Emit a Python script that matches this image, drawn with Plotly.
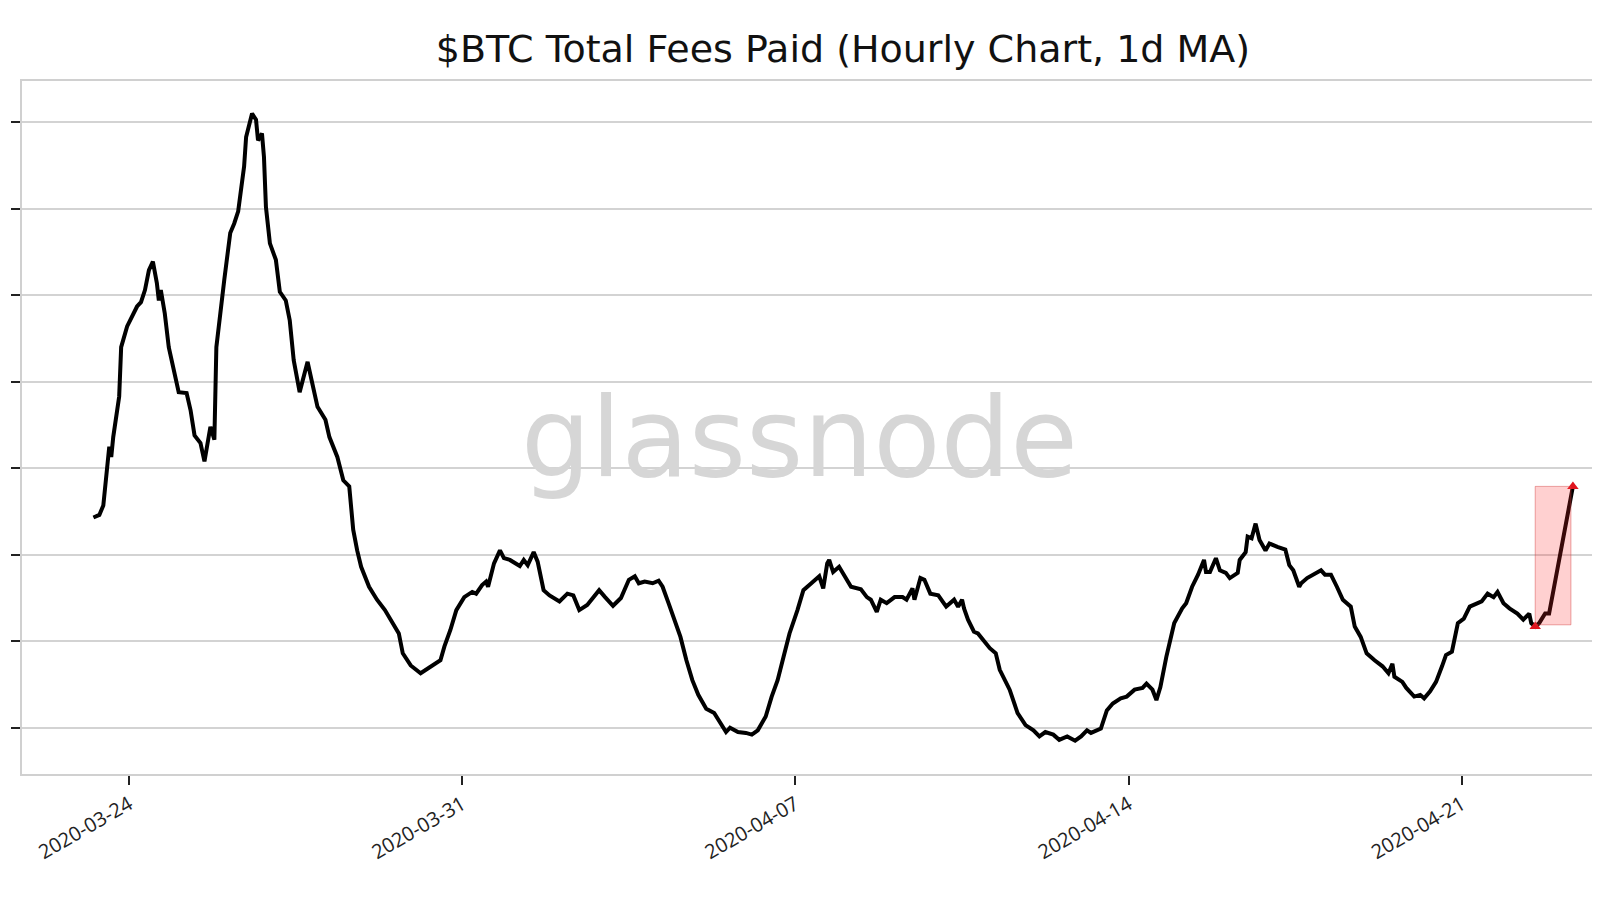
import pandas as pd
import plotly.graph_objects as go

# hours since 2020-03-23 00:00 (hourly series, 1d moving average)
start = "2020-03-23 00:00"
hours = [6, 9, 11, 14, 15, 16, 19, 20, 23, 25, 28, 30, 32, 34, 36, 38, 39, 40, 42, 44,
         46, 49, 53, 55, 57, 60, 62, 65, 67, 68, 72, 75, 77, 79, 82, 83, 86, 88, 89, 91,
         92, 93, 95, 98, 100, 103, 105, 107, 110, 114, 116, 119, 123, 125, 129, 132, 135, 137,
         139, 141, 145, 149, 153, 156, 160, 162, 166, 171, 176, 181, 183, 186, 189, 193, 197, 199,
         202, 204, 205, 208, 211, 213, 216, 219, 221, 223, 225, 228, 230, 233, 236, 241, 245, 248,
         251, 255, 257, 261, 264, 268, 272, 276, 279, 281, 284, 288, 291,
         293, 296, 299, 302, 305, 308, 311, 315, 319, 322, 325, 327, 331, 335, 338, 341, 345, 348,
         351, 354, 357, 361, 364, 368, 372, 374, 376, 377, 379, 382, 385, 388, 393, 396, 398, 401,
         403, 406, 410, 414, 416, 419, 420, 423, 425, 428, 432, 436, 440, 442, 444,
         445, 447, 450, 452, 455, 458, 461, 463, 468, 472, 476, 480, 483, 486, 490, 493, 497, 501,
         504, 507, 509, 514, 517, 520, 524, 527, 531, 535, 537, 540, 542, 544, 547, 551, 555, 557,
         560, 563, 566, 567, 569, 572, 574, 577, 579, 583, 584, 587, 588, 590, 592, 594, 597, 599, 603,
         607, 609, 611, 614, 615, 618, 621, 625, 627, 630, 633, 636, 640, 642, 645, 648, 652, 656,
         659, 661, 662, 666, 668, 672, 675, 677, 680, 683, 686, 688, 691, 694, 697, 700, 704, 706,
         709, 712, 714, 717, 720, 724, 727, 730, 731, 733, 735, 738, 740, 752]

fees = [3.43, 3.46, 3.57, 4.25, 4.13, 4.36, 4.83, 5.40, 5.64, 5.73, 5.87, 5.92, 6.06, 6.29, 6.39, 6.14, 5.94, 6.06, 5.79, 5.40,
        5.17, 4.88, 4.87, 4.67, 4.38, 4.29, 4.08, 4.48, 4.33, 5.40, 6.18, 6.72, 6.83, 6.97, 7.49, 7.83, 8.10, 8.03, 7.79, 7.87,
        7.60, 7.02, 6.60, 6.41, 6.04, 5.94, 5.71, 5.25, 4.88, 5.23, 5.02, 4.71, 4.56, 4.36, 4.13, 3.86, 3.79, 3.29,
        3.05, 2.86, 2.63, 2.48, 2.36, 2.25, 2.09, 1.86, 1.72, 1.63, 1.71, 1.78, 1.94, 2.13, 2.36, 2.51, 2.57, 2.55,
        2.65, 2.69, 2.63, 2.90, 3.05, 2.96, 2.94, 2.90, 2.87, 2.94, 2.88, 3.03, 2.92, 2.59, 2.53, 2.46, 2.55, 2.53,
        2.36, 2.42, 2.48, 2.59, 2.51, 2.41, 2.50, 2.71, 2.75, 2.67, 2.69, 2.67, 2.70,
        2.63, 2.44, 2.25, 2.05, 1.78, 1.55, 1.38, 1.22, 1.17, 1.07, 0.95, 1.00, 0.95, 0.94, 0.92, 0.97, 1.13, 1.36,
        1.55, 1.82, 2.09, 2.36, 2.59, 2.67, 2.75, 2.61, 2.90, 2.94, 2.80, 2.86, 2.75, 2.63, 2.60, 2.51, 2.48, 2.34,
        2.48, 2.44, 2.51, 2.51, 2.48, 2.61, 2.48, 2.73, 2.71, 2.55, 2.53, 2.40, 2.48, 2.40, 2.48,
        2.38, 2.25, 2.11, 2.09, 2.01, 1.92, 1.86, 1.67, 1.44, 1.17, 1.03, 0.97, 0.90, 0.95, 0.92, 0.86, 0.90, 0.85,
        0.90, 0.97, 0.94, 0.99, 1.20, 1.28, 1.34, 1.36, 1.44, 1.46, 1.51, 1.44, 1.32, 1.47, 1.82, 2.21, 2.38, 2.44,
        2.63, 2.77, 2.94, 2.80, 2.80, 2.96, 2.82, 2.79, 2.73, 2.79, 2.94, 3.03, 3.21, 3.19, 3.36, 3.17, 3.05, 3.13, 3.09,
        3.06, 2.88, 2.82, 2.63, 2.67, 2.73, 2.77, 2.82, 2.77, 2.77, 2.63, 2.48, 2.40, 2.17, 2.05, 1.86, 1.78, 1.71,
        1.63, 1.74, 1.59, 1.53, 1.46, 1.36, 1.38, 1.34, 1.42, 1.53, 1.71, 1.84, 1.88, 2.21, 2.26, 2.40, 2.44, 2.46,
        2.55, 2.51, 2.57, 2.44, 2.38, 2.32, 2.25, 2.32, 2.21, 2.17, 2.21, 2.32, 2.32, 3.79]

# highlighted jump at the end
hl_hours = [733, 752]
hl_fees = [2.17, 3.79]
hl_box_hours = [733, 751]
hl_box_fees = [2.19, 3.79]

tick_dates = ["2020-03-24", "2020-03-31", "2020-04-07", "2020-04-14", "2020-04-21"]
grid_vals = [1, 2, 3, 4, 5, 6, 7, 8]

t0 = pd.Timestamp(start)
dates = [t0 + pd.Timedelta(hours=h) for h in hours]
hl_dates = [t0 + pd.Timedelta(hours=h) for h in hl_hours]
box_dates = [t0 + pd.Timedelta(hours=h) for h in hl_box_hours]

fig = go.Figure()
fig.add_trace(go.Scatter(x=dates, y=fees, mode="lines",
                         line=dict(color="black", width=4), showlegend=False))
fig.add_trace(go.Scatter(x=hl_dates, y=hl_fees, mode="markers",
                         marker=dict(color="#e0141e", size=10, symbol="triangle-up"),
                         showlegend=False))

fig.add_shape(type="rect", xref="x", yref="y",
              x0=box_dates[0], x1=box_dates[1], y0=hl_box_fees[0], y1=hl_box_fees[1],
              fillcolor="rgba(255,40,40,0.22)", line=dict(color="rgba(210,60,60,0.45)", width=1))

# watermark
fig.add_annotation(text="glassnode", xref="paper", yref="paper", x=0.493, y=0.485,
                   showarrow=False, font=dict(family="DejaVu Sans", size=110, color="#d6d6d6"))

# page body adds an 8px margin, so the figure is sized/offset to compensate
fig.update_layout(
    width=1592, height=884,
    paper_bgcolor="white", plot_bgcolor="white",
    margin=dict(l=14, r=0, t=73, b=118),
    title=dict(text="$BTC Total Fees Paid (Hourly Chart, 1d MA)", x=0.5245, xanchor="center",
               y=0.9536, yanchor="middle",
               font=dict(family="DejaVu Sans", size=38, color="#111")),
    xaxis=dict(type="date", range=["2020-03-21 18:00", "2020-04-23 21:40"],
               tickvals=tick_dates, ticktext=tick_dates, tickangle=-30,
               tickfont=dict(family="Open Sans", size=20, color="#222"),
               ticks="outside", ticklen=9, tickwidth=2, tickcolor="#222",
               showgrid=False, zeroline=False,
               showline=True, linecolor="#d0d0d0", linewidth=2, mirror=True),
    yaxis=dict(range=[0.465, 8.477], tickvals=grid_vals, showticklabels=False,
               ticks="outside", ticklen=9, tickwidth=2, tickcolor="#222",
               showgrid=True, gridcolor="#d3d3d3", gridwidth=2, zeroline=False,
               showline=True, linecolor="#d0d0d0", linewidth=2),
)

fig.write_html("out.html")
